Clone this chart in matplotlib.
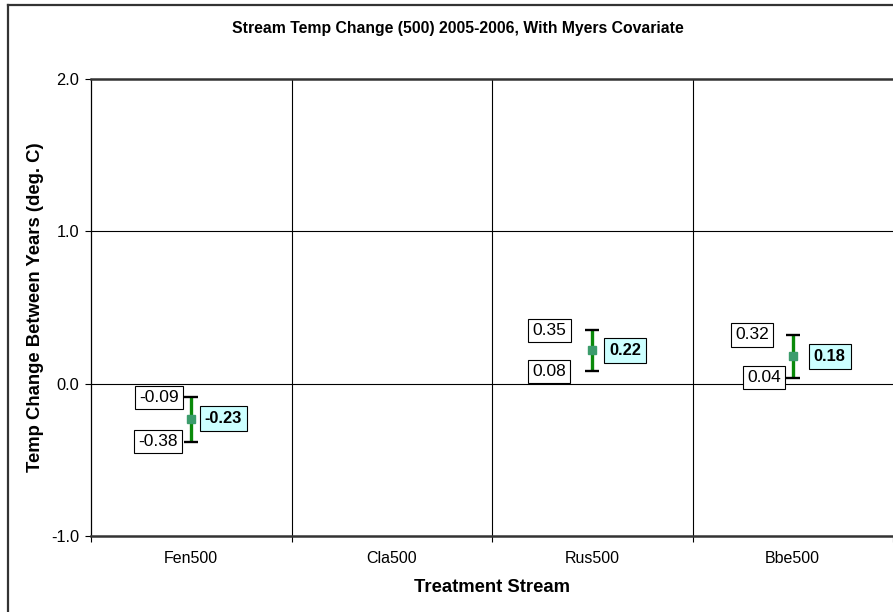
import matplotlib
matplotlib.use("Agg")
import matplotlib.pyplot as plt
from matplotlib.lines import Line2D

plt.rcParams['font.family'] = ['Liberation Sans', 'DejaVu Sans']

# Data
streams = ["Fen500", "Cla500", "Rus500", "Bbe500"]
means = [-0.23, None, 0.22, 0.18]
lower = [-0.38, None, 0.08, 0.04]
upper = [-0.09, None, 0.35, 0.32]
y_ticks = [-1.0, 0.0, 1.0, 2.0]

# Label offsets in pixels (x) for upper, lower and mean labels
upper_dx = [-32, None, -43, -41]
lower_dx = [-33, None, -43, -29]
mean_dx = [32, None, 33, 37]

W, H = 893, 612
fig = plt.figure(figsize=(W / 100, H / 100), dpi=100)

left, right, top, bottom = 91, 893, 79, 536
ax = fig.add_axes([left / W, 1 - bottom / H, (right - left) / W, (bottom - top) / H])

ax.set_xlim(-0.5, len(streams) - 0.5)
ax.set_ylim(-1.0, 2.0)

# Gridlines
for y in [1.0, 0.0]:
    ax.axhline(y, color='black', lw=0.8, zorder=1)
for x in [0.5, 1.5, 2.5]:
    ax.axvline(x, color='black', lw=0.8, zorder=1)

for s in ['top', 'bottom']:
    ax.spines[s].set_linewidth(1.8)
    ax.spines[s].set_color('#333333')
ax.spines['left'].set_linewidth(0.9)
ax.spines['left'].set_color('black')
ax.spines['right'].set_visible(False)

ax.set_yticks(y_ticks)
ax.set_yticklabels([f"{v:.1f}" for v in y_ticks], fontsize=11.8)
ax.tick_params(axis='y', direction='out', length=4.5, width=0.8, pad=4)

ax.set_xticks(range(len(streams)))
ax.set_xticklabels(streams, fontsize=11.5)
ax.tick_params(axis='x', which='major', length=0, pad=11)
ax.set_xticks([-0.5, 0.5, 1.5, 2.5, 3.5], minor=True)
ax.tick_params(axis='x', which='minor', direction='out', length=4.5, width=0.8)

ax.set_xlabel("Treatment Stream", fontsize=13.3, fontweight='bold', va='center')
ax.xaxis.set_label_coords(0.5, -52 / (bottom - top))
ax.set_ylabel("Temp Change Between Years (deg. C)", fontsize=13.3, fontweight='bold',
              va='center', ha='center')
ax.yaxis.set_label_coords((35 - left) / (right - left), 0.5)

# Error bars with means
for i, (m, lo, hi) in enumerate(zip(means, lower, upper)):
    if m is None:
        continue
    err = [[m - lo], [hi - m]]
    ax.errorbar([i], [m], yerr=err, fmt='none',
                ecolor='#0a8a0a', elinewidth=2.4, capsize=0, zorder=3)
    ax.errorbar([i], [m], yerr=err, fmt='none',
                ecolor='black', elinewidth=0, capsize=5.3, capthick=1.7, zorder=4)
    ax.plot([i], [m], marker='s', ms=6, color='#3c9c6c', mec='#3c9c6c', zorder=5)

    box = dict(boxstyle='square,pad=0.25', fc='white', ec='black', lw=0.8)
    ax.annotate(f"{hi:.2f}", xy=(i, hi), xytext=(upper_dx[i], 0), textcoords='offset pixels',
                ha='center', va='center', fontsize=12.5, bbox=box, zorder=6)
    ax.annotate(f"{lo:.2f}", xy=(i, lo), xytext=(lower_dx[i], 0), textcoords='offset pixels',
                ha='center', va='center', fontsize=12.5, bbox=box, zorder=6)
    mbox = dict(boxstyle='square,pad=0.3', fc='#ccffff', ec='black', lw=0.8)
    ax.annotate(f"{m:.2f}", xy=(i, m), xytext=(mean_dx[i], 0), textcoords='offset pixels',
                ha='center', va='center', fontsize=11.8, fontweight='bold', bbox=mbox, zorder=6)

# Title
fig.text(458 / W, 1 - 28 / H, "Stream Temp Change (500) 2005-2006, With Myers Covariate",
         ha='center', va='center', fontsize=11.3, fontweight='bold')

# Chart area border
fig.add_artist(Line2D([8 / W, 8 / W], [0, 1 - 5 / H], transform=fig.transFigure,
                      color='#333333', lw=1.6))
fig.add_artist(Line2D([8 / W, 1], [1 - 5 / H, 1 - 5 / H], transform=fig.transFigure,
                      color='#333333', lw=1.6))

fig.savefig("out.png", dpi=100)
